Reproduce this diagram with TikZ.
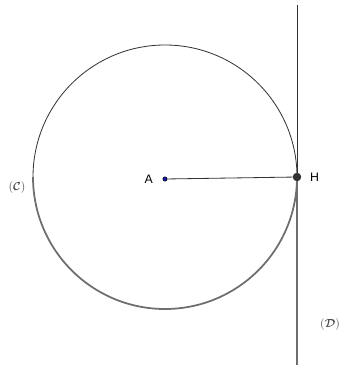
\documentclass[tikz,border=0pt]{standalone}
\usepackage{fontspec}
\setmainfont{Liberation Sans}
\usepackage{amsmath}
\usetikzlibrary{positioning,calc}
\definecolor{geInk}{HTML}{333333}
\definecolor{geRough}{HTML}{6E6E6E}
\definecolor{gePoint}{HTML}{1A1AA6}
\tikzset{
  % solid upper strokes
  solidln/.style={draw=geInk,line width=0.7pt},
  % rough lower strokes
  roughln/.style={draw=geRough,line width=1.5pt},
  % points
  ptA/.style={circle,fill=gePoint,draw=black,line width=0.3pt,inner sep=0pt,minimum size=3.6pt},
  ptH/.style={circle,fill=geInk,inner sep=0pt,minimum size=7pt},
  % labels
  lbl/.style={font=\fontsize{10.5}{12}\selectfont,text=black},
  nm/.style={font=\normalsize\bfseries,text=geRough!70!black},
}

\begin{document}
\begin{tikzpicture}[x=0.03cm,y=-0.03cm]
  \useasboundingbox (0,0) rectangle (341,368);
  \node[ptH] (H) at (297,177) {};
  \node[ptA] (A) at (165,179) {};
  \coordinate (top) at (297,5);
  \coordinate (bot) at (297,365);

  % circle (C)
  \draw[solidln] (H.center) arc[start angle=0,end angle=-180,radius=132];
  \draw[roughln] (H.center) arc[start angle=0,end angle=180,radius=132];

  % tangent (D)
  \draw[solidln] (top) -- (H.center);
  \draw[roughln] (H.center) -- (bot);

  % radius
  \draw[solidln] (A) -- (H);
  \node[ptA] at (A) {};
  \node[ptH] at (H) {};

  \node[lbl,left=5pt of A] (lA) {A};
  \node[lbl,right=4pt of H] (lH) {H};
  \node[nm] (lC) at (17,188) {$(\boldsymbol{\mathcal{C}})$};
  \node[nm] (lD) at (330,325) {$(\boldsymbol{\mathcal{D}})$};
\end{tikzpicture}
\end{document}
